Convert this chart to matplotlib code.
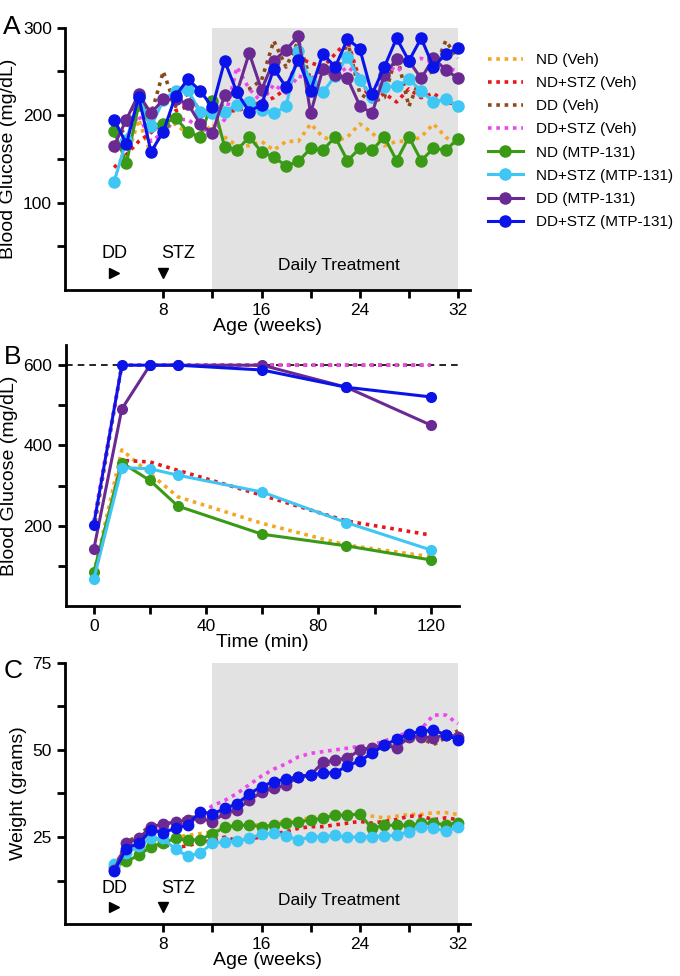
import numpy as np
import matplotlib
matplotlib.use('Agg')
import matplotlib.pyplot as plt

plt.rcParams['font.family'] = ['Liberation Sans', 'DejaVu Sans']

# ---- data ----
weeks = list(range(4, 33))

# panel A: blood glucose (mg/dL)
glu_nd_veh = [160, 150, 195, 155, 185, 190, 178, 175, 190, 175, 165, 165, 170, 160, 170, 170,
              190, 175, 170, 175, 190, 180, 165, 170, 170, 175, 190, 175, 165]
glu_ndstz_veh = [140, 155, 170, 180, 190, 205, 210, 205, 205, 205, 205, 210, 215, 220, 230, 265,
                 260, 255, 270, 285, 240, 215, 225, 215, 230, 220, 225, 215, 212]
glu_dd_veh = [175, 185, 220, 200, 250, 210, 225, 205, 200, 215, 225, 230, 240, 285, 255, 285,
              240, 255, 240, 285, 225, 215, 220, 270, 210, 245, 250, 285, 265]
glu_ddstz_veh = [165, 175, 200, 170, 180, 195, 195, 185, 180, 195, 255, 230, 215, 235, 225, 245,
                 240, 250, 245, 255, 245, 215, 260, 250, 260, 265, 260, 255, 250]
glu_nd_mtp = [182, 145, 212, 188, 190, 197, 181, 175, 216, 164, 160, 175, 158, 152, 142, 147,
              162, 160, 175, 148, 162, 160, 175, 148, 175, 148, 162, 160, 173]
glu_ndstz_mtp = [124, 171, 221, 187, 217, 228, 229, 204, 202, 204, 212, 215, 206, 202, 210, 273,
                 238, 226, 245, 267, 240, 221, 232, 233, 241, 228, 215, 218, 211]
glu_dd_mtp = [165, 195, 224, 202, 218, 218, 213, 190, 179, 223, 226, 271, 229, 262, 275, 290,
              202, 253, 246, 242, 211, 202, 246, 264, 262, 242, 265, 252, 242]
glu_ddstz_mtp = [195, 167, 221, 158, 181, 222, 241, 228, 209, 262, 226, 204, 212, 253, 232, 263,
                 228, 270, 255, 287, 276, 224, 255, 288, 262, 288, 255, 270, 277]

# panel B: glucose tolerance (mg/dL)
time_min = [0, 10, 20, 30, 60, 90, 120]
gtt_nd_veh = [80, 389, 330, 272, 206, 152, 123]
gtt_ndstz_veh = [70, 363, 359, 338, 276, 212, 177]
gtt_dd_veh = [190, 600, 600, 600, 600, 600, 600]
gtt_ddstz_veh = [210, 600, 600, 600, 600, 600, 600]
gtt_nd_mtp = [84, 357, 313, 249, 179, 150, 115]
gtt_ndstz_mtp = [67, 345, 342, 326, 284, 208, 140]
gtt_dd_mtp = [141, 491, 600, 600, 600, 545, 451]
gtt_ddstz_mtp = [203, 600, 600, 600, 588, 545, 521]

# panel C: body weight (grams)
wt_nd_veh = [17, 20, 21.5, 23, 24.5, 25, 25.5, 26, 26.5, 27.5, 28.5, 28.5, 28.5, 29, 29.5, 30,
             30.5, 31, 31.5, 31.5, 31.5, 31, 30.5, 31, 31.5, 31.5, 32, 32, 31.5]
wt_ndstz_veh = [16, 19, 20.5, 22, 23, 22, 22.5, 23.5, 24, 25, 24, 24.5, 25, 26, 26.5, 27.5,
                28, 28, 28.5, 29, 29.5, 29, 29.5, 30, 31, 31, 30, 30.5, 30]
wt_dd_veh = [16, 23.5, 25.5, 28.5, 28.5, 29.5, 30.5, 31, 30.5, 31.5, 33, 36, 38.5, 39.5, 40.5, 42,
             43, 45.5, 46.5, 48, 50, 50.5, 51.5, 51, 53.5, 53.5, 51.5, 53.5, 55.5]
wt_ddstz_veh = [17, 22, 24, 27, 27, 28, 29, 31, 34, 35.5, 37.5, 40, 42.5, 44.5, 46, 48,
                49, 49.5, 50, 50.5, 51, 51.5, 52.5, 54, 55, 56, 60, 60, 57.5]
wt_nd_mtp = [16.5, 18, 19.8, 22.2, 23.4, 24.6, 24.1, 24.3, 25.9, 27.8, 28.4, 28.4, 28, 28.4, 29.1,
             29.4, 29.9, 30.4, 31.3, 31.3, 31.6, 27.5, 28.4, 28.4, 28.4, 28.9, 28.9, 28.6, 29.1]
wt_ndstz_mtp = [17.4, 20.3, 22.4, 24.6, 24.6, 21.5, 19.5, 20.5, 23.2, 23.7, 23.9, 24.6, 25.9, 26.1,
                25.4, 24.1, 25.1, 25.1, 25.6, 24.9, 25.1, 25.1, 25.3, 25.6, 26.5, 28, 27.5, 26.8, 27.8]
wt_dd_mtp = [15.5, 23.2, 24.6, 28, 28.7, 29.4, 29.9, 30.4, 29.4, 31.8, 32.8, 35.6, 37.8, 39, 39.9,
             42.3, 42.8, 46.4, 47.1, 47.6, 50, 50.5, 51.4, 50.5, 53.8, 53.8, 53.4, 54.3, 53.8]
wt_ddstz_mtp = [15.2, 21.7, 23.2, 27, 26.3, 27.5, 28.5, 32.3, 31.6, 33.2, 34.5, 37.4, 39.5, 40.9,
                41.6, 42.3, 42.8, 43.3, 43.5, 45.4, 46.9, 49, 51.4, 53, 54.6, 55.3, 55.7, 54.3, 52.9]

labels = ['ND (Veh)', 'ND+STZ (Veh)', 'DD (Veh)', 'DD+STZ (Veh)',
          'ND (MTP-131)', 'ND+STZ (MTP-131)', 'DD (MTP-131)', 'DD+STZ (MTP-131)']
colors = ['#f5a623', '#e8151b', '#8b4a1c', '#ee45ee',
          '#3a9a16', '#3ec6f4', '#6b2a93', '#0a14e8']

fig = plt.figure(figsize=(6.8, 9.76), dpi=100)
axA = fig.add_axes([0.0956, 0.7029, 0.596, 0.2687])
axB = fig.add_axes([0.0966, 0.379, 0.578, 0.2674])
axC = fig.add_axes([0.0956, 0.053, 0.596, 0.268])


def style(ax):
    for s in ['top', 'right']:
        ax.spines[s].set_visible(False)
    for s in ['left', 'bottom']:
        ax.spines[s].set_linewidth(2)
    ax.tick_params(which='both', direction='out', width=2, length=5.5, labelsize=12.5, pad=4)


def draw(ax, x, series, ms=8, lw=2.2):
    handles = []
    for i, y in enumerate(series):
        if i < 4:
            h, = ax.plot(x, y, color=colors[i], ls=(0, (1, 1.3)), lw=2.6, zorder=3)
        else:
            h, = ax.plot(x, y, color=colors[i], lw=lw, marker='o', ms=ms, zorder=4 + i)
        handles.append(h)
    return handles


def week_axis(ax, label_y, tri_y, dt_y):
    ax.axvspan(12, 32, color='#e2e2e2', zorder=0, lw=0)
    ax.set_xlim(0, 33)
    ax.set_xticks([8, 16, 24, 32])
    ax.set_xticks([12, 20, 28], minor=True)
    ax.set_xlabel('Age (weeks)', fontsize=14, labelpad=0)
    ax.text(4, label_y, 'DD', ha='center', va='bottom', fontsize=13)
    ax.text(9.2, label_y, 'STZ', ha='center', va='bottom', fontsize=13)
    ax.plot([4], [tri_y], marker='>', color='black', ms=7, ls='none')
    ax.plot([8], [tri_y], marker='v', color='black', ms=7, ls='none')
    ax.text(22.3, dt_y, 'Daily Treatment', ha='center', va='center', fontsize=12.5)


# panel A
style(axA)
handles = draw(axA, weeks, [glu_nd_veh, glu_ndstz_veh, glu_dd_veh, glu_ddstz_veh,
                            glu_nd_mtp, glu_ndstz_mtp, glu_dd_mtp, glu_ddstz_mtp])
axA.set_ylim(0, 300)
axA.set_yticks([100, 200, 300])
axA.set_yticks([50, 150, 250], minor=True)
week_axis(axA, 32, 19, 28)
axA.set_ylabel('Blood Glucose (mg/dL)', fontsize=14)

# panel B
style(axB)
axB.axhline(600, color='black', ls=(0, (4, 3)), lw=1.2, zorder=2)
draw(axB, time_min, [gtt_nd_veh, gtt_ndstz_veh, gtt_dd_veh, gtt_ddstz_veh,
                     gtt_nd_mtp, gtt_ndstz_mtp, gtt_dd_mtp, gtt_ddstz_mtp], ms=7)
axB.set_xlim(-10, 130)
axB.set_ylim(0, 650)
axB.set_xticks([0, 40, 80, 120])
axB.set_xticks([20, 60, 100], minor=True)
axB.set_yticks([200, 400, 600])
axB.set_yticks([100, 300, 500], minor=True)
axB.set_xlabel('Time (min)', fontsize=14, labelpad=0)
axB.set_ylabel('Blood Glucose (mg/dL)', fontsize=14)

# panel C
style(axC)
draw(axC, weeks, [wt_nd_veh, wt_ndstz_veh, wt_dd_veh, wt_ddstz_veh,
                  wt_nd_mtp, wt_ndstz_mtp, wt_dd_mtp, wt_ddstz_mtp], ms=7.5)
axC.set_ylim(0, 75)
axC.set_yticks([25, 50, 75])
axC.set_yticks([12.5, 37.5, 62.5], minor=True)
week_axis(axC, 7.8, 5, 6.7)
axC.set_ylabel('Weight (grams)', fontsize=14)

# panel letters
for lab, y in [('A', 0.985), ('B', 0.647), ('C', 0.325)]:
    fig.text(0.005, y, lab, fontsize=19, va='top', ha='left')

fig.legend(handles, labels, loc='upper left', bbox_to_anchor=(0.708, 0.952),
           frameon=False, fontsize=11, handlelength=2.3, handletextpad=0.85,
           labelspacing=0.6, borderaxespad=0)

fig.savefig('out.png', dpi=100)
